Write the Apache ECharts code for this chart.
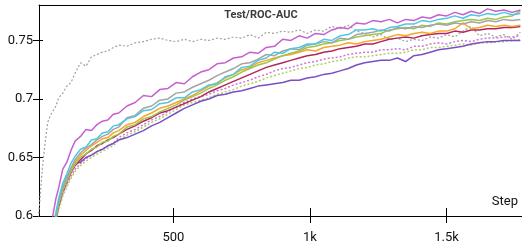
<!DOCTYPE html>
<html>
<head>
<meta charset="utf-8">
<script src="https://cdn.jsdelivr.net/npm/echarts@6/dist/echarts.min.js"></script>
<style>
  html, body { margin: 0; padding: 0; background: #fff; }
  #chart { width: 522px; height: 246px; }
</style>
</head>
<body>
<div id="chart"></div>
<script>
  // steps shared by every run
  const steps = [0, 10, 20, 30, 40, 50, 60, 70, 80, 95, 110, 125, 140, 160, 180, 200, 220, 240, 260, 280, 300,
    330, 360, 390, 420, 450, 480, 510, 540, 570, 600, 630, 660, 690, 720, 750, 780, 810, 840, 870, 900,
    930, 960, 990, 1020, 1050, 1080, 1110, 1140, 1170, 1200, 1230, 1260, 1290, 1320, 1350, 1380, 1410, 1440, 1470, 1500,
    1530, 1560, 1590, 1620, 1650, 1680, 1710, 1740, 1770]

  const xTickValues = [500, 1000, 1500]
  const xTickLabels = ['500', '1k', '1.5k']
  const yTickValues = [0.6, 0.65, 0.7, 0.75]
  const yTickLabels = ['0.6', '0.65', '0.7', '0.75']

  const magenta = [null, null, null, null, null, 0.588, 0.602, 0.615, 0.624, 0.640, 0.646, 0.656, 0.664, 0.668, 0.674, 0.673, 0.678, 0.681, 0.682, 0.687, 0.688,
    0.694, 0.697, 0.703, 0.702, 0.708, 0.709, 0.714, 0.713, 0.719, 0.723, 0.725, 0.730, 0.731, 0.735, 0.736, 0.740, 0.739, 0.744, 0.745, 0.751,
    0.750, 0.754, 0.752, 0.756, 0.755, 0.759, 0.761, 0.760, 0.765, 0.764, 0.767, 0.766, 0.768, 0.765, 0.768, 0.767, 0.770, 0.769, 0.772, 0.771,
    0.774, 0.772, 0.775, 0.773, 0.777, 0.775, 0.776, 0.774, 0.776]
  const cyan = [null, null, null, null, null, 0.575, 0.592, 0.603, 0.615, 0.628, 0.636, 0.645, 0.651, 0.657, 0.659, 0.665, 0.666, 0.671, 0.672, 0.677, 0.678,
    0.683, 0.685, 0.690, 0.691, 0.696, 0.697, 0.701, 0.701, 0.706, 0.708, 0.712, 0.713, 0.719, 0.721, 0.727, 0.728, 0.733, 0.735, 0.740, 0.739,
    0.743, 0.744, 0.747, 0.747, 0.751, 0.750, 0.754, 0.755, 0.759, 0.759, 0.760, 0.758, 0.761, 0.762, 0.764, 0.764, 0.767, 0.766, 0.768, 0.769,
    0.771, 0.769, 0.772, 0.771, 0.773, 0.772, 0.774, 0.772, 0.773]
  const gray = [null, null, null, null, null, 0.574, 0.590, 0.601, 0.612, 0.625, 0.633, 0.641, 0.648, 0.654, 0.658, 0.661, 0.665, 0.668, 0.670, 0.674, 0.676,
    0.684, 0.686, 0.692, 0.694, 0.699, 0.700, 0.705, 0.706, 0.710, 0.713, 0.716, 0.720, 0.723, 0.726, 0.730, 0.731, 0.734, 0.738, 0.737, 0.741,
    0.743, 0.742, 0.746, 0.747, 0.749, 0.748, 0.752, 0.751, 0.755, 0.756, 0.757, 0.759, 0.758, 0.761, 0.760, 0.762, 0.761, 0.763, 0.764, 0.763,
    0.765, 0.764, 0.766, 0.765, 0.767, 0.766, 0.768, 0.767, 0.768]
  const green = [null, null, null, null, null, 0.570, 0.586, 0.598, 0.610, 0.622, 0.630, 0.638, 0.644, 0.650, 0.653, 0.657, 0.659, 0.663, 0.664, 0.668, 0.670,
    0.676, 0.678, 0.683, 0.685, 0.689, 0.692, 0.695, 0.699, 0.702, 0.705, 0.709, 0.712, 0.716, 0.719, 0.723, 0.726, 0.729, 0.731, 0.734, 0.737,
    0.739, 0.741, 0.744, 0.745, 0.747, 0.748, 0.750, 0.751, 0.753, 0.754, 0.755, 0.756, 0.759, 0.760, 0.761, 0.760, 0.763, 0.762, 0.765, 0.764,
    0.766, 0.767, 0.768, 0.767, 0.769, 0.768, 0.770, 0.771, 0.775]
  const orange = [null, null, null, null, null, 0.572, 0.588, 0.600, 0.611, 0.624, 0.632, 0.640, 0.646, 0.652, 0.656, 0.660, 0.663, 0.666, 0.667, 0.671, 0.673,
    0.678, 0.680, 0.685, 0.688, 0.692, 0.694, 0.697, 0.700, 0.703, 0.707, 0.711, 0.714, 0.718, 0.721, 0.725, 0.727, 0.731, 0.733, 0.735, 0.737,
    0.738, 0.740, 0.742, 0.741, 0.744, 0.745, 0.746, 0.748, 0.747, 0.749, 0.750, 0.751, 0.753, 0.755, 0.754, 0.756, 0.757, 0.756, 0.758, 0.758,
    0.760, 0.765, 0.760, 0.761, 0.763, 0.762, 0.763, 0.762, 0.763]
  const crimson = [null, null, null, null, null, 0.570, 0.586, 0.598, 0.609, 0.621, 0.629, 0.637, 0.643, 0.648, 0.653, 0.656, 0.660, 0.662, 0.665, 0.667, 0.670,
    0.674, 0.677, 0.681, 0.684, 0.688, 0.690, 0.693, 0.696, 0.699, 0.702, 0.706, 0.709, 0.712, 0.715, 0.718, 0.721, 0.724, 0.727, 0.729, 0.731,
    0.733, 0.735, 0.737, 0.738, 0.740, 0.741, 0.743, 0.744, 0.745, 0.747, 0.747, 0.749, 0.751, 0.752, 0.753, 0.752, 0.754, 0.755, 0.756, 0.756,
    0.758, 0.757, 0.759, 0.759, 0.760, 0.760, 0.761, 0.761, 0.762]
  const purple = [null, null, null, null, null, 0.560, 0.578, 0.600, 0.612, 0.624, 0.633, 0.640, 0.645, 0.646, 0.650, 0.652, 0.655, 0.657, 0.660, 0.662, 0.665,
    0.667, 0.670, 0.673, 0.677, 0.680, 0.684, 0.688, 0.692, 0.695, 0.698, 0.700, 0.703, 0.704, 0.706, 0.707, 0.709, 0.711, 0.712, 0.713, 0.714,
    0.716, 0.716, 0.718, 0.719, 0.721, 0.722, 0.724, 0.726, 0.729, 0.731, 0.732, 0.733, 0.733, 0.735, 0.732, 0.737, 0.738, 0.740, 0.742, 0.743,
    0.744, 0.745, 0.747, 0.748, 0.749, 0.749, 0.750, 0.750, 0.750]
  const pinkDotted = [null, null, null, null, null, 0.568, 0.584, 0.596, 0.607, 0.619, 0.627, 0.634, 0.640, 0.645, 0.649, 0.652, 0.655, 0.657, 0.660, 0.662, 0.667,
    0.671, 0.674, 0.678, 0.682, 0.685, 0.689, 0.693, 0.697, 0.700, 0.702, 0.704, 0.707, 0.709, 0.712, 0.714, 0.716, 0.719, 0.721, 0.724, 0.726,
    0.727, 0.729, 0.731, 0.732, 0.734, 0.735, 0.736, 0.738, 0.739, 0.740, 0.740, 0.742, 0.742, 0.743, 0.742, 0.745, 0.745, 0.747, 0.748, 0.747,
    0.749, 0.750, 0.749, 0.751, 0.752, 0.752, 0.753, 0.753, 0.754]
  const greenDotted = [null, null, null, null, null, 0.566, 0.582, 0.594, 0.605, 0.617, 0.625, 0.632, 0.638, 0.643, 0.647, 0.650, 0.653, 0.655, 0.658, 0.660, 0.665,
    0.669, 0.672, 0.676, 0.680, 0.683, 0.687, 0.691, 0.695, 0.697, 0.699, 0.701, 0.704, 0.706, 0.708, 0.711, 0.713, 0.715, 0.718, 0.720, 0.722,
    0.724, 0.726, 0.727, 0.729, 0.730, 0.732, 0.733, 0.735, 0.736, 0.736, 0.737, 0.738, 0.739, 0.739, 0.740, 0.742, 0.742, 0.744, 0.744, 0.745,
    0.746, 0.747, 0.746, 0.748, 0.748, 0.749, 0.749, 0.750, 0.751]
  const grayDotted = [0.585, 0.610, 0.640, 0.662, 0.680, 0.686, 0.690, 0.694, 0.701, 0.705, 0.711, 0.714, 0.722, 0.731, 0.728, 0.736, 0.738, 0.740, 0.741, 0.744, 0.746,
    0.745, 0.748, 0.749, 0.751, 0.752, 0.750, 0.749, 0.751, 0.749, 0.751, 0.750, 0.752, 0.751, 0.753, 0.752, 0.755, 0.752, 0.757, 0.756, 0.758,
    0.757, 0.759, 0.756, 0.759, 0.758, 0.762, 0.760, 0.763, 0.758, 0.756, 0.753, 0.755, 0.751, 0.752, 0.749, 0.751, 0.750, 0.753, 0.752, 0.755,
    0.753, 0.758, 0.762, 0.754, 0.756, 0.753, 0.755, 0.751, 0.757]

  const xMin = 8
  const xMax = 1776
  const yMin = 0.6
  const yMax = 0.7803

  function makeSeries(values, color, dotted, width) {
    return {
      type: 'line',
      data: steps.map((s, i) => [s, values[i]]),
      showSymbol: false,
      clip: true,
      xAxisIndex: 0,
      yAxisIndex: 0,
      lineStyle: {
        color: color,
        width: width || 1.5,
        type: dotted ? [2, 2] : 'solid'
      },
      emphasis: { disabled: true }
    }
  }

  const chart = echarts.init(document.getElementById('chart'), null, { renderer: 'canvas' })
  chart.setOption({
    animation: false,
    title: [{
      text: 'Test/ROC-AUC',
      left: 'center',
      top: 10,
      padding: 0,
      textStyle: { fontFamily: 'Roboto', fontSize: 11, fontWeight: 'bold', color: '#3c3c3c' }
    }, {
      text: 'Step',
      right: 4,
      top: 195,
      padding: 0,
      textStyle: { fontFamily: 'Roboto', fontSize: 13, fontWeight: 'normal', color: '#111' }
    }],
    grid: { left: 39, right: 0, top: 5, bottom: 30, containLabel: false },
    xAxis: [{
      type: 'value', min: xMin, max: xMax, position: 'bottom',
      axisLine: { onZero: false, lineStyle: { color: '#000', width: 1 } },
      axisTick: { customValues: xTickValues, length: 7, lineStyle: { color: '#000' } },
      axisLabel: {
        customValues: xTickValues,
        formatter: v => xTickLabels[xTickValues.indexOf(v)],
        margin: 15, color: '#111', fontFamily: 'Roboto', fontSize: 13
      },
      splitLine: { show: false }
    }, {
      type: 'value', min: xMin, max: xMax, position: 'bottom',
      axisLine: { show: false },
      axisTick: { customValues: xTickValues, inside: true, length: 8, lineStyle: { color: '#000' } },
      axisLabel: { show: false },
      splitLine: { show: false }
    }, {
      type: 'value', min: xMin, max: xMax, position: 'top',
      axisLine: { onZero: false, lineStyle: { color: '#000', width: 1 } },
      axisTick: { show: false },
      axisLabel: { show: false },
      splitLine: { show: false }
    }],
    yAxis: [{
      type: 'value', min: yMin, max: yMax, position: 'left',
      axisLine: { show: true, onZero: false, lineStyle: { color: '#000', width: 1 } },
      axisTick: { show: true, customValues: yTickValues, length: 6, lineStyle: { color: '#000' } },
      axisLabel: {
        customValues: yTickValues,
        formatter: v => yTickLabels[yTickValues.indexOf(v)],
        margin: 6, color: '#111', fontFamily: 'Roboto', fontSize: 13
      },
      splitLine: { show: false }
    }, {
      type: 'value', min: yMin, max: yMax, position: 'left',
      axisLine: { show: false },
      axisTick: { show: true, customValues: yTickValues, inside: true, length: 4, lineStyle: { color: '#000' } },
      axisLabel: { show: false },
      splitLine: { show: false }
    }],
    series: [
      makeSeries(grayDotted, '#a0a0a0', true, 1.2),
      makeSeries(greenDotted, '#a8d262', true),
      makeSeries(pinkDotted, '#d373d8', true),
      makeSeries(purple, '#7a4fc6'),
      makeSeries(crimson, '#b3265d'),
      makeSeries(orange, '#f4a72a'),
      makeSeries(green, '#9dc64d'),
      makeSeries(gray, '#a5a5a5'),
      makeSeries(cyan, '#4fc6e3'),
      makeSeries(magenta, '#c65fcf')
    ]
  })
</script>
</body>
</html>
